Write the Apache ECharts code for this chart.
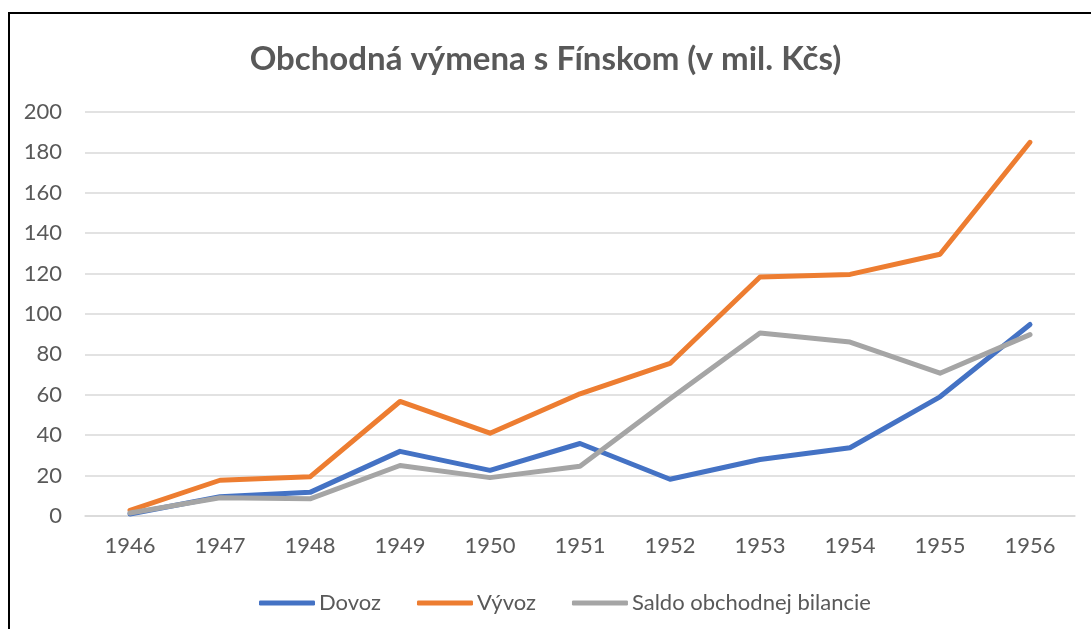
<!DOCTYPE html>
<html><head><meta charset="utf-8">
<script src="https://cdn.jsdelivr.net/npm/echarts@6/dist/echarts.min.js"></script>
<style>html,body{margin:0;padding:0;background:#fff}#c{width:1091px;height:629px}</style>
</head><body><div id="c"></div>
<script>
const years = ['1946','1947','1948','1949','1950','1951','1952','1953','1954','1955','1956'];
const dovoz = [1, 9.5, 11.7, 32, 22.6, 35.9, 18.2, 28, 33.8, 59, 94.8];
const vyvoz = [2.8, 17.7, 19.4, 56.7, 41, 60.5, 75.5, 118.3, 119.6, 129.6, 185];
const saldo = [1.5, 9, 8.5, 25, 19, 24.6, 58, 90.6, 86.1, 70.7, 89.8];
const seriesNames = ['Dovoz', 'Vývoz', 'Saldo obchodnej bilancie'];
const colors = ['#4472C4', '#ED7D31', '#A5A5A5'];
const txt = '#595959';
const font = 'Lato';
const chart = echarts.init(document.getElementById('c'), null, {renderer: 'canvas'});
const mk = (name, data, color) => ({
  name, type: 'line', data, symbol: 'none', smooth: false,
  lineStyle: {color, width: 5, cap: 'round', join: 'round'}, itemStyle: {color}
});
chart.setOption({
  animation: false,
  backgroundColor: '#fff',
  graphic: [{type: 'rect', shape: {x: 9, y: 13, width: 1200, height: 700}, style: {fill: 'none', stroke: '#000', lineWidth: 2}}],
  title: {text: 'Obchodná výmena s Fínskom (v mil. Kčs)', left: 'center', top: 38,
    textStyle: {color: txt, fontSize: 33, fontWeight: 'bold', fontFamily: font}},
  grid: {left: 85, right: 16, top: 112, bottom: 113, containLabel: false},
  xAxis: {type: 'category', data: years, boundaryGap: true,
    axisLine: {lineStyle: {color: '#d9d9d9', width: 1.5}}, axisTick: {show: false},
    axisLabel: {color: txt, fontSize: 22, fontFamily: font, margin: 19}},
  yAxis: {type: 'value', min: 0, max: 200, interval: 20,
    axisLine: {show: false}, axisTick: {show: false},
    splitLine: {lineStyle: {color: '#d9d9d9', width: 1.5}},
    axisLabel: {color: txt, fontSize: 22, fontFamily: font, margin: 23}},
  legend: {top: 587, left: 254, itemWidth: 56, itemHeight: 5, itemGap: 36,
    icon: 'roundRect',
    textStyle: {color: txt, fontSize: 22, fontFamily: font, padding: [0, 0, 0, -1]},
    data: seriesNames},
  series: [mk(seriesNames[0], dovoz, colors[0]), mk(seriesNames[1], vyvoz, colors[1]), mk(seriesNames[2], saldo, colors[2])]
});
</script></body></html>
